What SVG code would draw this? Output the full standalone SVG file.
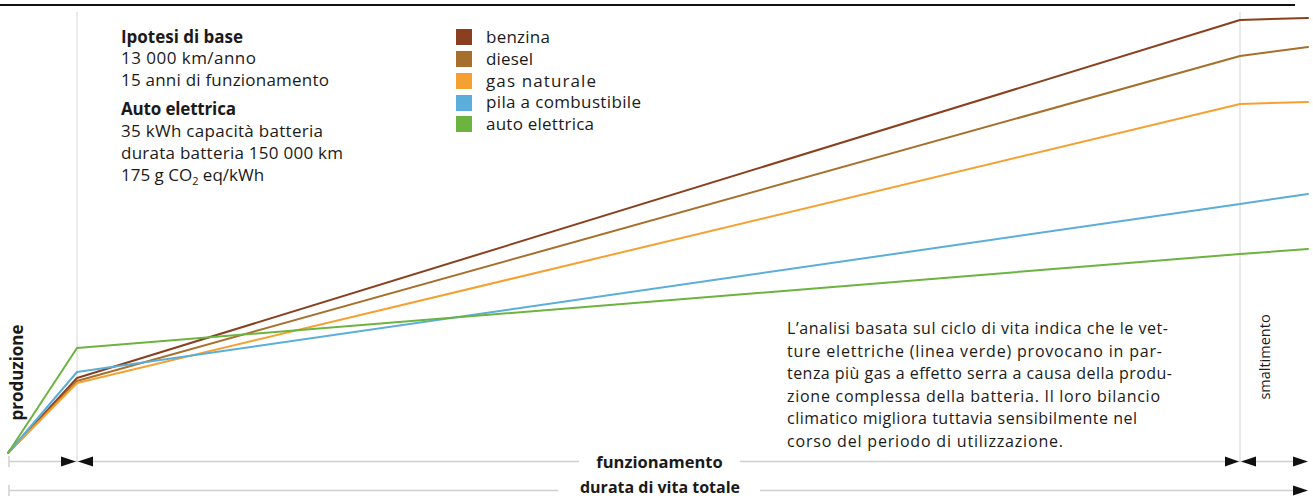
<svg xmlns="http://www.w3.org/2000/svg" width="1313" height="496" viewBox="0 0 1313 496">
<style>
text{font-family:"Open Sans","DejaVu Sans",sans-serif;fill:#1a1a1a}
.b{font-weight:700}
.t17{font-size:17px}
.p{font-size:16px}
.grid{stroke:#d4d4d4;stroke-width:1;fill:none}
.axis{stroke:#cfcfcf;stroke-width:1.5;fill:none}
.ser{fill:none;stroke-width:2;stroke-linejoin:round;stroke-linecap:round}
.arr{fill:#111}
</style>
<rect width="1313" height="496" fill="#fff"/>
<line x1="0" y1="5" x2="1295" y2="5" stroke="#111" stroke-width="2"/>
<g id="grid">
<line class="grid" x1="77" y1="12" x2="77" y2="461"/>
<line class="grid" x1="1240" y1="12" x2="1240" y2="461"/>
</g>
<g id="connectors">
<polyline id="benzina" class="ser" stroke="#8a3f1e" points="8,453 77,378 1240,20 1308,18"/>
<polyline id="diesel" class="ser" stroke="#a66f2c" points="8,453 77,381 1240,56 1308,47"/>
<polyline id="gas" class="ser" stroke="#f5a033" points="8,453 77,383 1240,104 1308,102"/>
<polyline id="pila" class="ser" stroke="#5aaed9" points="8,453 77,372 1240,204 1308,194"/>
<polyline id="elettrica" class="ser" stroke="#6cb33f" points="8,453 77,348 1240,254 1308,249"/>
</g>
<g id="ipotesi">
<text class="b t17" x="121" y="43" textLength="122">Ipotesi di base</text>
<text class="t17" x="121" y="64" textLength="135">13 000 km/anno</text>
<text class="t17" x="121" y="86" textLength="208">15 anni di funzionamento</text>
<text class="b t17" x="121" y="115" textLength="115">Auto elettrica</text>
<text class="t17" x="121" y="137" textLength="202">35 kWh capacità batteria</text>
<text class="t17" x="121" y="159" textLength="222">durata batteria 150 000 km</text>
<text class="t17" x="121" y="181">175 g CO<tspan font-size="11px" dy="4">2</tspan><tspan dy="-4"> eq/kWh</tspan></text>
</g>
<g id="legend">
<rect x="456" y="29" width="16" height="16" fill="#8a3f1e"/>
<rect x="456" y="51" width="16" height="16" fill="#a66f2c"/>
<rect x="456" y="73" width="16" height="16" fill="#f5a033"/>
<rect x="456" y="95" width="16" height="16" fill="#5aaed9"/>
<rect x="456" y="116" width="16" height="16" fill="#6cb33f"/>
<text class="t17" x="486" y="43" textLength="64">benzina</text>
<text class="t17" x="486" y="65" textLength="47">diesel</text>
<text class="t17" x="486" y="87" textLength="110">gas naturale</text>
<text class="t17" x="486" y="108" textLength="155">pila a combustibile</text>
<text class="t17" x="486" y="130" textLength="108">auto elettrica</text>
</g>
<g id="nota">
<text class="p" x="787" y="334" textLength="381">L’analisi basata sul ciclo di vita indica che le vet-</text>
<text class="p" x="787" y="357" textLength="375">ture elettriche (linea verde) provocano in par-</text>
<text class="p" x="787" y="379" textLength="385">tenza più gas a effetto serra a causa della produ-</text>
<text class="p" x="787" y="402" textLength="373">zione complessa della batteria. Il loro bilancio</text>
<text class="p" x="787" y="424" textLength="350">climatico migliora tuttavia sensibilmente nel</text>
<text class="p" x="787" y="447" textLength="276">corso del periodo di utilizzazione.</text>
</g>
<g id="produzione">
<text class="b t17" text-anchor="middle" transform="translate(23,372.5) rotate(-90)">produzione</text>
</g>
<g id="smaltimento">
<text font-size="14.5px" text-anchor="middle" transform="translate(1270,357) rotate(-90)">smaltimento</text>
</g>
<g id="funzionamento">
<line class="axis" x1="9" y1="461.5" x2="579" y2="461.5"/>
<line class="axis" x1="740" y1="461.5" x2="1295" y2="461.5"/>
<line class="axis" x1="9" y1="456" x2="9" y2="467"/>
<polygon class="arr" points="61,456.5 76,461.5 61,466.5"/>
<polygon class="arr" points="93,456.5 78,461.5 93,466.5"/>
<polygon class="arr" points="1225,456.5 1239,461.5 1225,466.5"/>
<polygon class="arr" points="1256,456.5 1241,461.5 1256,466.5"/>
<polygon class="arr" points="1293,456.5 1308,461.5 1293,466.5"/>
<text class="b" font-size="16.5px" x="659.5" y="467.5" text-anchor="middle">funzionamento</text>
</g>
<g id="durata">
<line class="axis" x1="9" y1="490.5" x2="558" y2="490.5"/>
<line class="axis" x1="760" y1="490.5" x2="1295" y2="490.5"/>
<line class="axis" x1="9" y1="485" x2="9" y2="496"/>
<polygon class="arr" points="1293,485.5 1308,490.5 1293,495.5"/>
<text class="b" font-size="16px" x="660" y="492.5" text-anchor="middle">durata di vita totale</text>
</g>
</svg>
